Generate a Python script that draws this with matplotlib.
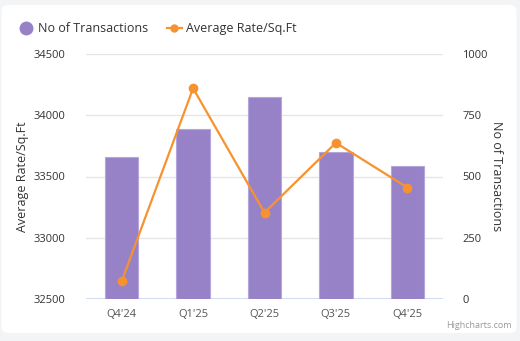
import matplotlib.pyplot as plt
from matplotlib.patches import FancyBboxPatch
from matplotlib.lines import Line2D

quarters = ["Q4'24", "Q1'25", "Q2'25", "Q3'25", "Q4'25"]
transactions = [581, 694, 826, 600, 542]
avg_rate = [32645, 34220, 33205, 33775, 33410]

BAR = '#9782c8'
LINE = '#f7922f'
TXT = '#333333'

plt.rcParams['font.family'] = ['Open Sans', 'DejaVu Sans']

fig = plt.figure(figsize=(5.2, 3.41), dpi=100)
fig.patch.set_facecolor('#f3f4f6')
card = FancyBboxPatch((1.5 / 520, 8 / 341), 515 / 520, 328 / 341,
                      boxstyle='round,pad=0,rounding_size=0.015',
                      transform=fig.transFigure, facecolor='white',
                      edgecolor='none', zorder=0)
fig.patches.append(card)

ax_bar = fig.add_axes([86 / 520, 1 - 299 / 341, 357 / 520, 245 / 341])
ax_bar.patch.set_alpha(0)
ax_line = ax_bar.twinx()

x = range(len(quarters))
ax_bar.bar(x, transactions, width=0.47, color=BAR, edgecolor='#b3a6de',
           linewidth=0.8, zorder=2)
ax_bar.set_ylim(0, 1000)
ax_bar.set_yticks([0, 250, 500, 750, 1000])
ax_bar.set_xlim(-0.5, len(quarters) - 0.5)
ax_bar.set_xticks(list(x))
ax_bar.set_xticklabels(quarters)

ax_line.plot(x, avg_rate, color=LINE, linewidth=1.6, marker='o',
             markersize=6, zorder=3)
ax_line.set_ylim(32500, 34500)
ax_line.set_yticks([32500, 33000, 33500, 34000, 34500])

# bars on the right axis, line on the left axis (as in the original)
ax_bar.yaxis.tick_right()
ax_bar.yaxis.set_label_position('right')
ax_line.yaxis.tick_left()
ax_line.yaxis.set_label_position('left')
ax_bar.set_zorder(1)
ax_line.set_zorder(2)
ax_line.patch.set_alpha(0)

for a in (ax_bar, ax_line):
    for s in a.spines.values():
        s.set_visible(False)
    a.tick_params(length=0, labelsize=8, colors=TXT)

ax_bar.tick_params(axis='y', pad=14)
ax_line.tick_params(axis='y', pad=15)
ax_bar.tick_params(axis='x', pad=7, colors='#555555')
ax_bar.grid(axis='y', color='#e6e6e6', linewidth=1, zorder=0)
ax_bar.set_axisbelow(True)
ax_bar.axhline(0, color='#ccd6eb', linewidth=1.2, zorder=1)

ax_bar.set_ylabel('No of Transactions', rotation=270, fontsize=9,
                  color=TXT, labelpad=11)
ax_line.set_ylabel('Average Rate/Sq.Ft', fontsize=9, color=TXT, labelpad=3)

handles = [
    Line2D([], [], linestyle='none', marker='o', markersize=9,
           color=BAR),
    Line2D([], [], color=LINE, linewidth=1.6, marker='o', markersize=5),
]
fig.legend(handles, ['No of Transactions', 'Average Rate/Sq.Ft'],
           loc='upper left', bbox_to_anchor=(18.5 / 520, 1 - 22 / 341),
           ncol=2, frameon=False, fontsize=9, handlelength=1.2,
           handletextpad=0.36, columnspacing=1.5, labelcolor=TXT,
           borderpad=0, borderaxespad=0)

fig.text(512 / 520, 1 - 326 / 341, 'Highcharts.com', ha='right',
         va='center', fontsize=6.5, color='#999999')

fig.savefig('out.png', dpi=100, facecolor=fig.get_facecolor())
